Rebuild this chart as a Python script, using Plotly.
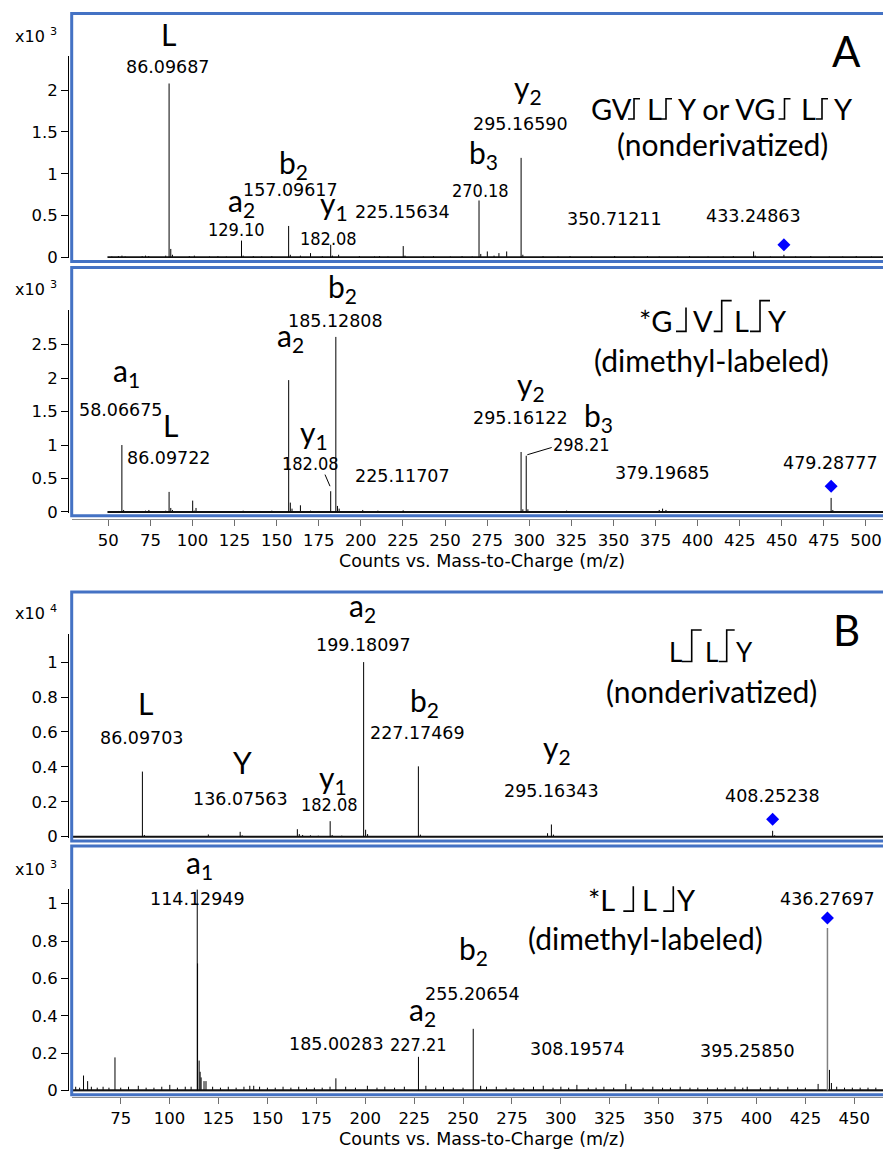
import plotly.graph_objects as go

W, H = 883, 1159


def px(x):
    return x / W


def py(y):
    return 1 - y / H


NUM = "DejaVu Sans"
NARROW = "Liberation Sans Narrow, Arial Narrow, DejaVu Sans Condensed, sans-serif"
ION = "Lato"
BLUE_FRAME = "#4472C4"
NUM_SIZE = 17.5
NARROW_SIZE = 18
ION_SIZE = 30
SEQ_SIZE = 29

# ---------------- Panel A, top: GVLY / VGLY nonderivatized (x10^3 counts)
a1_mz = [86.09687, 129.10, 157.09617, 182.08, 225.15634, 270.18, 295.16590, 350.71211, 433.24863]
a1_int = [2.08, 0.20, 0.375, 0.15, 0.134, 0.68, 1.19, 0.015, 0.07]
a1_minor_mz = [52.1, 56.0, 58.1, 60.0, 70.1, 72.1, 74.0, 84.1, 87.1, 88.1, 98.1, 101.1, 110.1, 115.1,
               120.1, 130.1, 136.1, 141.1, 147.1, 158.1, 164.1, 170.1, 177.1, 183.1, 186.8, 199.1,
               208.1, 211.1, 216.1, 226.2, 237.1, 243.1, 253.1, 260.1, 266.1, 271.2, 275.1, 279.1,
               282.0, 286.6, 296.2, 308.2, 317.1, 324.2, 337.1, 362.2, 370.2, 377.2, 388.2, 395.2,
               406.2, 415.2, 421.2, 434.2, 443.2, 451.25, 458.2, 467.2, 478.2, 486.2, 494.2, 503.2]
a1_minor_int = [0.01, 0.015, 0.02, 0.01, 0.015, 0.02, 0.015, 0.02, 0.10, 0.03, 0.015, 0.02, 0.01, 0.015,
                0.01, 0.02, 0.015, 0.01, 0.015, 0.03, 0.02, 0.05, 0.015, 0.02, 0.03, 0.015,
                0.01, 0.015, 0.01, 0.02, 0.01, 0.015, 0.01, 0.015, 0.01, 0.04, 0.07, 0.02,
                0.05, 0.07, 0.03, 0.015, 0.01, 0.015, 0.01, 0.01, 0.015, 0.01, 0.01, 0.015,
                0.01, 0.01, 0.015, 0.02, 0.01, 0.03, 0.01, 0.015, 0.01, 0.01, 0.015, 0.01]
a1_prec_mz, a1_prec_y = [451.25], [0.15]

# ---------------- Panel A, bottom: *GVLY dimethyl-labeled (x10^3 counts)
a2_mz = [58.06675, 86.09722, 100.11, 157.13, 182.08, 185.12808, 225.11707, 295.16122, 298.21,
         379.19685, 479.28777]
a2_int = [1.0, 0.30, 0.17, 1.97, 0.31, 2.615, 0.025, 0.896, 0.84, 0.05, 0.21]
a2_minor_mz = [52.0, 56.0, 59.1, 61.0, 70.1, 72.1, 74.1, 84.1, 87.1, 88.1, 101.1, 102.1, 112.1,
               120.1, 130.1, 140.1, 147.1, 158.1, 159.1, 164.1, 170.1, 175.1, 186.1, 187.1, 195.1,
               201.1, 210.1, 218.1, 232.0, 245.0, 257.0, 268.0, 280.0, 296.2, 299.2, 310.0, 322.2,
               333.0, 341.2, 352.0, 365.0, 377.2, 381.2, 390.0, 401.0, 415.0, 428.0, 442.0, 455.0,
               468.0, 480.3, 488.0, 497.0, 505.0]
a2_minor_int = [0.01, 0.015, 0.03, 0.01, 0.015, 0.02, 0.03, 0.02, 0.06, 0.03, 0.02, 0.06, 0.015,
                0.01, 0.02, 0.015, 0.02, 0.14, 0.05, 0.10, 0.02, 0.015, 0.09, 0.05, 0.015,
                0.03, 0.02, 0.01, 0.015, 0.01, 0.015, 0.01, 0.015, 0.04, 0.04, 0.01, 0.02,
                0.01, 0.015, 0.01, 0.01, 0.03, 0.03, 0.01, 0.01, 0.01, 0.01, 0.01, 0.01,
                0.01, 0.03, 0.01, 0.01, 0.01]
a2_prec_mz, a2_prec_y = [479.28777], [0.385]

# ---------------- Panel B, top: LLY nonderivatized (x10^4 counts)
b1_mz = [86.09703, 136.07563, 182.08, 199.18097, 227.17469, 295.16343, 408.25238]
b1_int = [0.373, 0.028, 0.089, 1.0, 0.403, 0.07, 0.034]
b1_minor_mz = [55.0, 60.0, 70.0, 87.1, 100.0, 110.0, 119.8, 125.0, 137.1, 147.0, 155.0, 165.3,
               166.3, 168.0, 172.0, 176.0, 183.1, 188.0, 200.2, 201.2, 210.0, 228.2, 240.0, 255.0,
               270.0, 280.0, 293.2, 296.2, 310.0, 330.0, 350.0, 370.0, 390.0, 409.3, 430.0, 450.0]
b1_minor_int = [0.004, 0.003, 0.004, 0.01, 0.004, 0.003, 0.013, 0.004, 0.008, 0.004, 0.003, 0.043,
                0.015, 0.01, 0.008, 0.006, 0.01, 0.006, 0.04, 0.015, 0.004, 0.012, 0.004, 0.003,
                0.004, 0.003, 0.02, 0.012, 0.003, 0.003, 0.003, 0.003, 0.003, 0.008, 0.003, 0.003]
b1_prec_mz, b1_prec_y = [408.25238], [0.10]

# ---------------- Panel B, bottom: *LLY dimethyl-labeled (x10^3 counts)
b2_mz = [114.12949, 185.00283, 227.21, 255.20654, 308.19574, 395.25850]
b2_int = [1.075, 0.065, 0.18, 0.33, 0.03, 0.02]
b2_prec_peak_mz, b2_prec_peak_int = [436.27697], [0.87]
b2_minor_mz = [52, 54, 56.0, 58.1, 60, 63, 66, 69, 72.08, 75, 79, 84, 88, 92, 96, 100.1, 104, 108,
               111, 114.3, 115.1, 115.6, 116.1, 117.6, 118.6, 122, 126, 130, 134, 138, 141, 143,
               146, 150, 154, 158, 162, 166, 170, 174, 178, 182, 190, 195, 201.1, 206, 210, 215,
               220, 231, 236, 240, 245, 250, 259, 262, 267, 272, 276, 281, 286, 291, 296, 300,
               304, 314, 318, 322, 327, 333.2, 336, 342, 347, 352, 356, 361, 366, 370, 375,
               380, 384, 389, 393, 402, 407, 411, 416, 421, 425, 431.5, 437.3, 438.3, 441, 445,
               449, 453, 457, 461]
b2_minor_int = [0.02, 0.015, 0.08, 0.05, 0.02, 0.015, 0.02, 0.015, 0.177, 0.015, 0.02, 0.025, 0.015,
                0.015, 0.02, 0.03, 0.015, 0.02, 0.02, 0.68, 0.16, 0.10, 0.07, 0.05, 0.05, 0.02,
                0.015, 0.02, 0.015, 0.02, 0.025, 0.025, 0.02, 0.015, 0.015, 0.02, 0.015, 0.02,
                0.015, 0.015, 0.015, 0.02, 0.02, 0.015, 0.025, 0.015, 0.02, 0.015, 0.02, 0.025,
                0.015, 0.02, 0.015, 0.015, 0.025, 0.02, 0.02, 0.015, 0.015, 0.015, 0.02, 0.025,
                0.015, 0.02, 0.015, 0.015, 0.015, 0.02, 0.015, 0.035, 0.02, 0.015, 0.02, 0.015,
                0.015, 0.02, 0.015, 0.015, 0.015, 0.015, 0.015, 0.02, 0.015, 0.015, 0.02, 0.015,
                0.02, 0.015, 0.015, 0.035, 0.11, 0.04, 0.02, 0.015, 0.015, 0.015, 0.015, 0.015]
b2_prec_mz, b2_prec_y = [436.27697], [0.923]

# axis ranges / ticks
a_xrange = [28.44, 510.1]
b_xrange = [50.11, 464.67]
a_xticks = list(range(50, 501, 25))
b_xticks = list(range(75, 451, 25))
a1_yticks, a1_ytext = [0, 0.5, 1, 1.5, 2], ["0", "0.5", "1", "1.5", "2"]
a2_yticks, a2_ytext = [0, 0.5, 1, 1.5, 2, 2.5], ["0", "0.5", "1", "1.5", "2", "2.5"]
b_yticks, b_ytext = [0, 0.2, 0.4, 0.6, 0.8, 1], ["0", "0.2", "0.4", "0.6", "0.8", "1"]


def sticks(mz, inten):
    xs, ys = [], []
    for m, h in zip(mz, inten):
        xs += [m, m, None]
        ys += [0, h, None]
    return xs, ys


fig = go.Figure()


def add_panel(xa, ya, major_mz, major_int, minor_mz, minor_int, base, prec_mz, prec_y, base_w=2):
    bx, by = sticks(minor_mz, minor_int)
    fig.add_trace(go.Scatter(x=bx, y=by, mode="lines", line=dict(color="black", width=1),
                             xaxis=xa, yaxis=ya, hoverinfo="skip"))
    fig.add_trace(go.Scatter(x=base, y=[0, 0], mode="lines", line=dict(color="#111111", width=base_w),
                             xaxis=xa, yaxis=ya, hoverinfo="skip"))
    mx, my = sticks(major_mz, major_int)
    fig.add_trace(go.Scatter(x=mx, y=my, mode="lines", line=dict(color="black", width=1),
                             xaxis=xa, yaxis=ya))
    fig.add_trace(go.Scatter(x=prec_mz, y=prec_y, mode="markers",
                             marker=dict(symbol="diamond", size=10, color="#0000FF"),
                             xaxis=xa, yaxis=ya))


add_panel("x", "y", a1_mz, a1_int, a1_minor_mz, a1_minor_int, [49.5, 510.1], a1_prec_mz, a1_prec_y)
add_panel("x2", "y2", a2_mz, a2_int, a2_minor_mz, a2_minor_int, [49.5, 510.1], a2_prec_mz, a2_prec_y)
add_panel("x3", "y3", b1_mz, b1_int, b1_minor_mz, b1_minor_int, [50.6, 464.67], b1_prec_mz, b1_prec_y)
add_panel("x4", "y4", b2_mz, b2_int, b2_minor_mz, b2_minor_int, [50.6, 464.67], b2_prec_mz, b2_prec_y,
          base_w=2.5)
gx, gy = sticks(b2_prec_peak_mz, b2_prec_peak_int)
fig.add_trace(go.Scatter(x=gx, y=gy, mode="lines", line=dict(color="#808080", width=1.5),
                         xaxis="x4", yaxis="y4"))

tick_font = dict(family=NUM, size=16.5, color="black")


def yax(dom_bottom, dom_top, rng, tv, tt):
    return dict(domain=[py(dom_bottom), py(dom_top)], range=rng, anchor="free", position=px(68),
                showline=True, linecolor="black", linewidth=1, ticks="outside", ticklen=7,
                tickcolor="black", tickfont=tick_font, tickmode="array", tickvals=tv, ticktext=tt,
                showgrid=False, zeroline=False, fixedrange=True)


def xax_hidden(rng, anchor):
    return dict(domain=[px(72), 1], range=rng, anchor=anchor, visible=False, showgrid=False,
                zeroline=False)


def xax_shown(rng, ypos, tv):
    return dict(domain=[px(72), 1], range=rng, anchor="free", position=py(ypos), showline=True,
                linecolor="#8c8c8c", linewidth=1, ticks="outside", ticklen=6, tickcolor="#6f6f6f",
                tickvals=tv, tickfont=tick_font, showgrid=False, zeroline=False)


fig.update_layout(
    width=W, height=H, margin=dict(l=0, r=0, t=0, b=0),
    paper_bgcolor="white", plot_bgcolor="white", showlegend=False,
    xaxis=xax_hidden(a_xrange, "y"),
    xaxis2=xax_shown(a_xrange, 523, a_xticks),
    xaxis3=xax_hidden(b_xrange, "y3"),
    xaxis4=xax_shown(b_xrange, 1106, b_xticks),
    yaxis=yax(260, 56.7, [-0.0083, 2.406], a1_yticks, a1_ytext),
    yaxis2=yax(517, 312.7, [-0.015, 3.013], a2_yticks, a2_ytext),
    yaxis3=yax(844.5, 639.3, [-0.007, 1.159], b_yticks, b_ytext),
    yaxis4=yax(1100, 895.7, [-0.0053, 1.0797], b_yticks, b_ytext),
)

shapes = []
# blue panel frames
for top, bot in [(13.7, 263.5), (269.5, 519.8), (596.7, 847.5), (852.5, 1103.3)]:
    shapes.append(dict(type="rect", xref="paper", yref="paper", x0=px(71.7), x1=px(900),
                       y0=py(bot), y1=py(top), line=dict(color=BLUE_FRAME, width=3)))

# leader lines from small labels to their peaks
for (x0, y0, x1, y1) in [(325, 478.3, 330, 490), (551.7, 451, 527.3, 458.3)]:
    shapes.append(dict(type="line", xref="paper", yref="paper", x0=px(x0), y0=py(y0),
                       x1=px(x1), y1=py(y1), line=dict(color="black", width=1)))


def cleave(x, ytop, ybot, top_hook, bot_hook):
    # fragmentation mark: vertical bar with optional hooks (top -> right, bottom -> left)
    path = f"M {px(x - bot_hook)},{py(ybot)} L {px(x)},{py(ybot)} L {px(x)},{py(ytop)}"
    if top_hook:
        path += f" L {px(x + top_hook)},{py(ytop)}"
    shapes.append(dict(type="path", xref="paper", yref="paper", path=path,
                       line=dict(color="black", width=1.6)))


for x in [634, 666, 784.5, 822]:
    cleave(x, 99.5, 120, 6, 6)
cleave(686, 310, 334, 0, 10)
cleave(721.7, 303, 334, 10, 8)
cleave(760, 303, 334, 10, 10)
cleave(691.7, 635, 666.7, 10, 10)
cleave(726.7, 635, 666.7, 8, 8)
cleave(633.3, 893.3, 918.3, 0, 10)
cleave(673.3, 893.3, 918.3, 0, 10)

fig.update_layout(shapes=shapes)

ann = []


def text(x, y, s, family, size, xanchor="center"):
    ann.append(dict(x=px(x), y=py(y), xref="paper", yref="paper", text=s, showarrow=False,
                    xanchor=xanchor, yanchor="middle", font=dict(family=family, size=size, color="black")))


def num(x, y, s):
    text(x, y, s, NUM, NUM_SIZE)


def narrow(x, y, s):
    text(x, y, s, NARROW, NARROW_SIZE)


def ion(x_left, baseline, letter, sub=None, size=ION_SIZE):
    s = letter if sub is None else f"{letter}<sub>{sub}</sub>"
    yc = baseline - 0.387 * size + (2 if sub else 0)
    text(x_left - 1, yc, s, ION, size, xanchor="left")


# magnitude labels
text(12.7, 35.5, "x10 <sup>3</sup>", NUM, 16, "left")
text(12.7, 290.5, "x10 <sup>3</sup>", NUM, 16, "left")
text(12.7, 617, "x10 <sup>4</sup>", NUM, 16, "left")
text(12.7, 875, "x10 <sup>3</sup>", NUM, 16, "left")

# axis titles
text(481.7, 565, "Counts vs. Mass-to-Charge (m/z)", NUM, 17.5)
text(481.7, 1148.3, "Counts vs. Mass-to-Charge (m/z)", NUM, 17.5)

# panel letters
text(846.7, 51.7, "A", ION, 42)
text(846.7, 635, "B", ION, 42)

# ---- A top labels
ion(160, 46, "L")
num(168, 67.8, "86.09687")
ion(226.7, 213.5, "a", "2")
narrow(236.7, 231, "129.10")
ion(278.3, 175, "b", "2")
num(290, 191.5, "157.09617")
ion(318.5, 216.5, "y", "1")
narrow(328.8, 240, "182.08")
num(402.8, 213.3, "225.15634")
ion(467.7, 165, "b", "3")
narrow(480.7, 191.7, "270.18")
ion(513.3, 99, "y", "2")
num(520.8, 125.3, "295.16590")
num(614.2, 220.8, "350.71211")
num(753.3, 217.8, "433.24863")
for s, x in [("GV", 611), ("L", 654), ("Y or VG", 726), ("L", 808), ("Y", 843)]:
    text(x, 109.5, s, ION, SEQ_SIZE)
text(722.3, 145, "(nonderivatized)", ION, ION_SIZE)

# ---- A bottom labels
ion(111.7, 385, "a", "1")
num(121.2, 413.3, "58.06675")
ion(161.7, 440, "L")
num(168.8, 461.3, "86.09722")
ion(276, 349.3, "a", "2")
ion(326.7, 300, "b", "2")
num(335.7, 323.3, "185.12808")
ion(299.3, 447.5, "y", "1")
narrow(310.8, 467.5, "182.08")
num(402.5, 480, "225.11707")
ion(516, 399, "y", "2")
num(520.8, 421.3, "295.16122")
ion(583.3, 430, "b", "3")
narrow(581.3, 448, "298.21")
num(662.5, 476.3, "379.19685")
num(830.8, 466.7, "479.28777")
for s, x in [("*G", 656.3), ("V", 702.5), ("L", 741), ("Y", 777.5)]:
    text(x, 323.3, s, ION, SEQ_SIZE)
text(711.2, 363.3, "(dimethyl-labeled)", ION, ION_SIZE)

# ---- B top labels
ion(348.3, 621.7, "a", "2")
num(363.8, 650, "199.18097")
ion(136.7, 720, "L")
num(142.2, 743.3, "86.09703")
ion(231.7, 780, "Y")
num(240.5, 805, "136.07563")
ion(318.3, 794.5, "y", "1")
narrow(329.7, 811, "182.08")
ion(409.3, 716.7, "b", "2")
num(417.5, 738.3, "227.17469")
ion(541.7, 764, "y", "2")
num(551.2, 796.7, "295.16343")
num(772.8, 802.3, "408.25238")
for s, x in [("L", 675), ("L", 711), ("Y", 744)]:
    text(x, 657.5, s, ION, 26)
text(711.7, 696.7, "(nonderivatized)", ION, ION_SIZE)

# ---- B bottom labels
ion(185, 880, "a", "1")
num(197.2, 905.8, "114.12949")
num(336.3, 1052.2, "185.00283")
ion(408.3, 1028.3, "a", "2")
narrow(418.8, 1052.5, "227.21")
ion(458.3, 966.7, "b", "2")
num(472.5, 1002.2, "255.20654")
num(577.2, 1057.2, "308.19574")
num(747.2, 1059.2, "395.25850")
num(827.5, 906.3, "436.27697")
for s, x in [("*L", 601.7), ("L", 649.5), ("Y", 686.7)]:
    text(x, 907, s, ION, SEQ_SIZE)
text(645.5, 945.8, "(dimethyl-labeled)", ION, ION_SIZE)

fig.update_layout(annotations=ann)

fig.write_html("out.html")
